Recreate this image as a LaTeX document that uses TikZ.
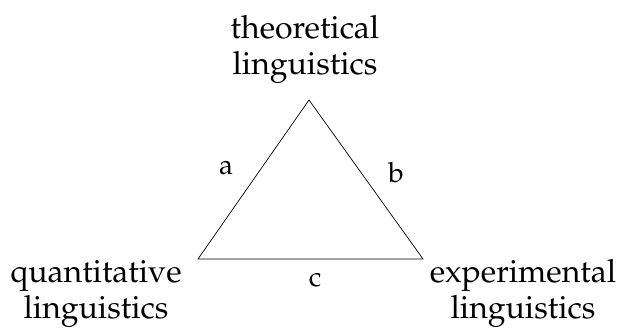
\documentclass[tikz,border=0pt]{standalone}
\usepackage[T1]{fontenc}
\usepackage{mathpazo}
\begin{document}
\begin{tikzpicture}[x=1pt,y=1pt,
  field/.style={align=center,inner sep=0pt,font=\fontsize{32}{36}\selectfont},
  edgelab/.style={inner sep=0pt,font=\fontsize{28}{32}\selectfont},
  side/.style={line width=0.7pt,line join=miter}]
\useasboundingbox (0,0) rectangle (623,331);
\coordinate (T) at (309,231);
\coordinate (L) at (198,72);
\coordinate (R) at (423,72);
\draw[side] (T) -- (L) -- (R) -- cycle;
\node[field,anchor=base] (theo) at (305,256) {theoretical\\linguistics};
\node[field,anchor=base] (quant) at (96,12) {quantitative\\linguistics};
\node[field,anchor=base] (exp) at (523,12) {experimental\\linguistics};
\node[edgelab] (a) at (226,163) {a};
\node[edgelab] (b) at (396,159) {b};
\node[edgelab] (c) at (315,51) {c};
\end{tikzpicture}
\end{document}
